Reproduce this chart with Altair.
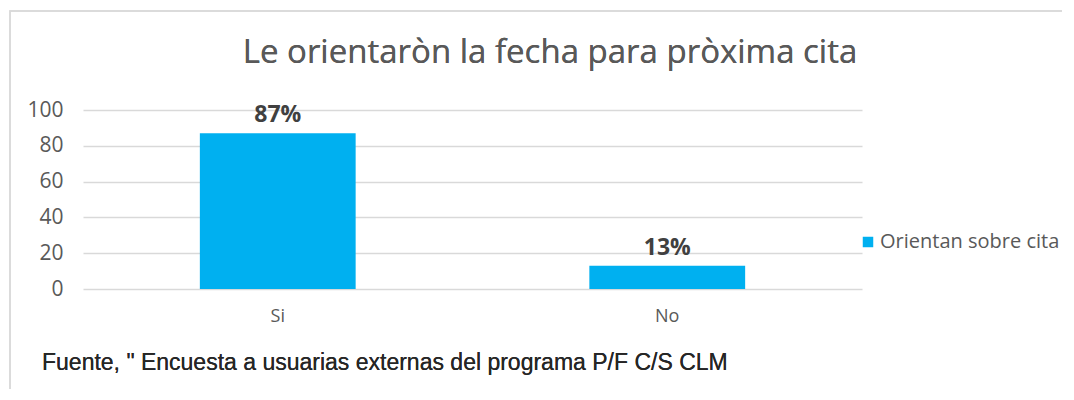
import altair as alt
import pandas as pd

categories = ["Si", "No"]
values = [87, 13]
labels = ["87%", "13%"]
y_ticks = [0, 20, 40, 60, 80, 100]
series_name = "Orientan sobre cita"
title_text = "Le orientaròn la fecha para pròxima cita"
source_text = "Fuente, \" Encuesta a usuarias externas del programa P/F C/S CLM"

df = pd.DataFrame({"cat": categories, "val": values, "lab": labels, "serie": [series_name] * 2})

W, H = 779, 179
FONT = "Open Sans"
GRAY = "#595959"
BLUE = "#00B0F0"

X = alt.X("cat:N", sort=categories,
          scale=alt.Scale(paddingInner=0.6, paddingOuter=0.3),
          axis=alt.Axis(title=None, labelAngle=0, domain=False, ticks=False,
                        labelPadding=18, labelFontSize=18, labelColor=GRAY, labelFont=FONT))
Y = alt.Y("val:Q", scale=alt.Scale(domain=[0, 100]),
          axis=alt.Axis(title=None, values=y_ticks, domain=False, ticks=False,
                        labelOverlap=False, labelFlush=False,
                        labelPadding=20, labelFontSize=21, labelColor=GRAY, labelFont=FONT,
                        gridColor="#D9D9D9", gridWidth=1.5))

base = alt.Chart(df)

frame = base.mark_rect(fillOpacity=0, stroke="#D9D9D9", strokeWidth=1.5).encode(
    x=alt.value(-73), x2=alt.value(1200), y=alt.value(-99), y2=alt.value(600)
)

bars = base.mark_bar(color=BLUE).encode(
    x=X, y=Y,
    fill=alt.Fill("serie:N", scale=alt.Scale(range=[BLUE]),
                  legend=alt.Legend(title=None, orient="none", legendX=775, legendY=122,
                                    symbolType="square", symbolSize=110, symbolStrokeWidth=0,
                                    labelFontSize=20, labelColor=GRAY, labelFont=FONT,
                                    labelOffset=2, labelLimit=300)),
)

text = base.mark_text(baseline="bottom", dy=-6, fontSize=23, fontWeight="bold",
                      color="#404040", font=FONT).encode(
    x=X, y=Y, text="lab:N",
)

title = base.mark_text(align="center", baseline="middle", fontSize=33, color=GRAY,
                       font=FONT).encode(
    x=alt.value(467), y=alt.value(-57), text=alt.value(title_text)
)

source = base.mark_text(align="left", baseline="middle", fontSize=23, color="#262626",
                        font="Liberation Sans").encode(
    x=alt.value(-41), y=alt.value(H + 74), text=alt.value(source_text)
)

chart = alt.layer(frame, bars, text, title, source).properties(
    width=W, height=H,
    padding={"left": 75, "top": 102, "right": 200, "bottom": 100},
    autosize=alt.AutoSizeParams(type="none"),
).configure_view(stroke=None)

chart.save("out.html", embed_options={"renderer": "svg", "actions": False})
